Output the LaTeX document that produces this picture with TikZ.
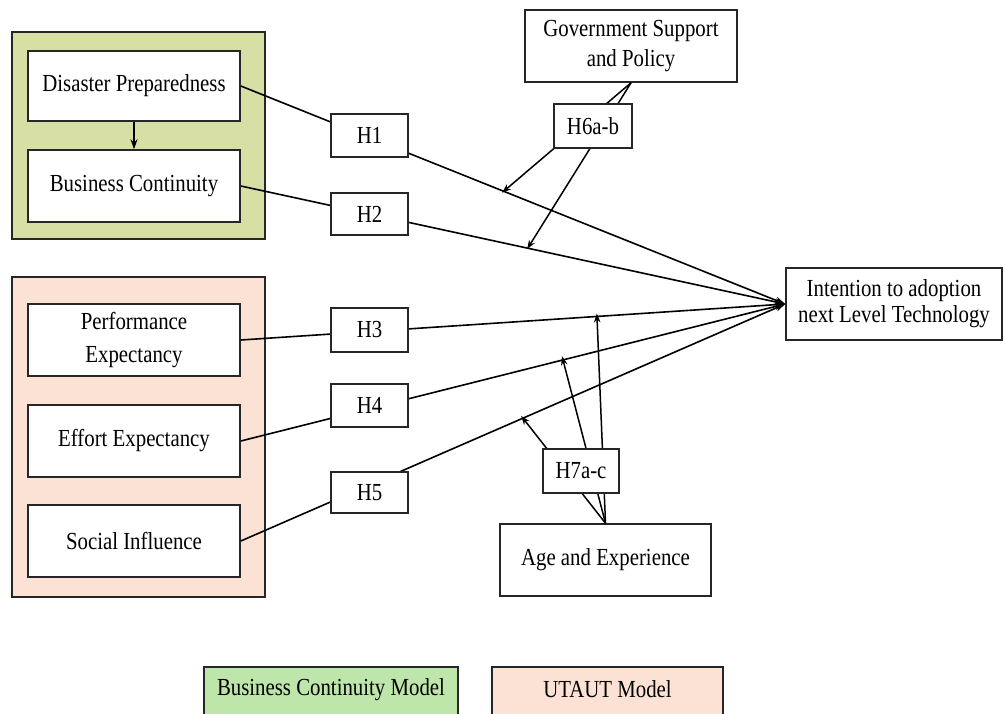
\documentclass[tikz,border=0pt]{standalone}
\usepackage{fontspec}
\setmainfont{Liberation Serif}[FakeStretch=0.85]
\usetikzlibrary{arrows.meta}
\definecolor{bcgreen}{RGB}{216,223,164}
\definecolor{leggreen}{RGB}{190,229,170}
\definecolor{utpink}{RGB}{252,226,212}
\begin{document}
\begin{tikzpicture}[x=1pt,y=-1pt,
  every node/.style={font=\fontsize{24.5}{27}\selectfont},
  group/.style={draw=black!85,line width=1.6pt},
  box/.style={draw=black!85,line width=1.6pt,fill=white,inner sep=0pt,align=center,minimum width=212pt,minimum height=72pt},
  hbox/.style={draw=black!85,line width=1.6pt,fill=white,inner sep=0pt,minimum width=77pt,minimum height=43pt},
  link/.style={line width=1.6pt,-{Stealth[length=10pt,width=7pt]}},
  modl/.style={line width=1.5pt,-{Stealth[length=9pt,width=6.5pt]}}]
\useasboundingbox (0,0) rectangle (1004,713);
\fill[white] (0,0) rectangle (1004,713);
% group backgrounds
\draw[group,fill=bcgreen] (12,32) rectangle (265,239);
\draw[group,fill=utpink] (12,277) rectangle (265,597);
% legend
\begin{scope}
\clip (0,0) rectangle (1004,713);
\draw[group,fill=leggreen] (204,667) rectangle (458,725);
\draw[group,fill=utpink] (492,667) rectangle (723,725);
\end{scope}
\node (legbc) at (331,690) {Business Continuity Model};
\node (legut) at (607.5,689) {UTAUT Model};
% source boxes
\node[box,minimum height=70pt] (DP) at (134,86) {Disaster Preparedness};
\node[box] (BC) at (134,186) {Business Continuity};
\node[box,font=\fontsize{24.5}{33}\selectfont] (PE) at (134,340) {Performance\\Expectancy};
\node[box] (EE) at (134,441) {Effort Expectancy};
\node[box] (SI) at (134,541) {Social Influence};
% target
\node[box,minimum width=216pt,font=\fontsize{24.5}{26}\selectfont] (IT) at (894,304) {Intention to adoption\\next Level Technology};
% moderators
\node[box,font=\fontsize{24.5}{30}\selectfont] (GOV) at (631,46) {Government Support\\and Policy};
\node[box,minimum width=211pt] (AGE) at (605.5,560) {Age and Experience};
% main paths
\draw[link] (DP.east) -- (IT.west) coordinate[pos=0.48] (m1);
\draw[link] (BC.east) -- (IT.west) coordinate[pos=0.526] (m2);
\draw[link] (PE.east) -- (IT.west) coordinate[pos=0.654] (m5);
\draw[link] (EE.east) -- (IT.west) coordinate[pos=0.59] (m4);
\draw[link] (SI.east) -- (IT.west) coordinate[pos=0.515] (m3);
\draw[link] (DP.south) -- (BC.north);
% hypothesis labels
\node[hbox] (H1) at (369.5,135.5) {H1};
\node[hbox,minimum height=42pt] (H2) at (369.5,214) {H2};
\node[hbox,minimum height=44pt] (H3) at (369.5,330) {H3};
\node[hbox] (H4) at (369.5,405.5) {H4};
\node[hbox,minimum height=41pt] (H5) at (369.5,492.5) {H5};
% moderating arrows
\draw[modl] (GOV.south) -- ([yshift=-2pt]m1);
\draw[modl] (GOV.south) -- ([yshift=-1pt]m2);
\draw[modl] (AGE.north) -- ([yshift=3pt]m3);
\draw[modl] (AGE.north) -- ([yshift=4pt]m4);
\draw[modl] (AGE.north) -- ([yshift=3pt]m5);
\node[hbox,minimum width=78pt,minimum height=44pt] (H6) at (593,126) {H6a-b};
\node[hbox,minimum width=76pt,minimum height=44pt] (H7) at (581,471) {H7a-c};
\end{tikzpicture}
\end{document}
